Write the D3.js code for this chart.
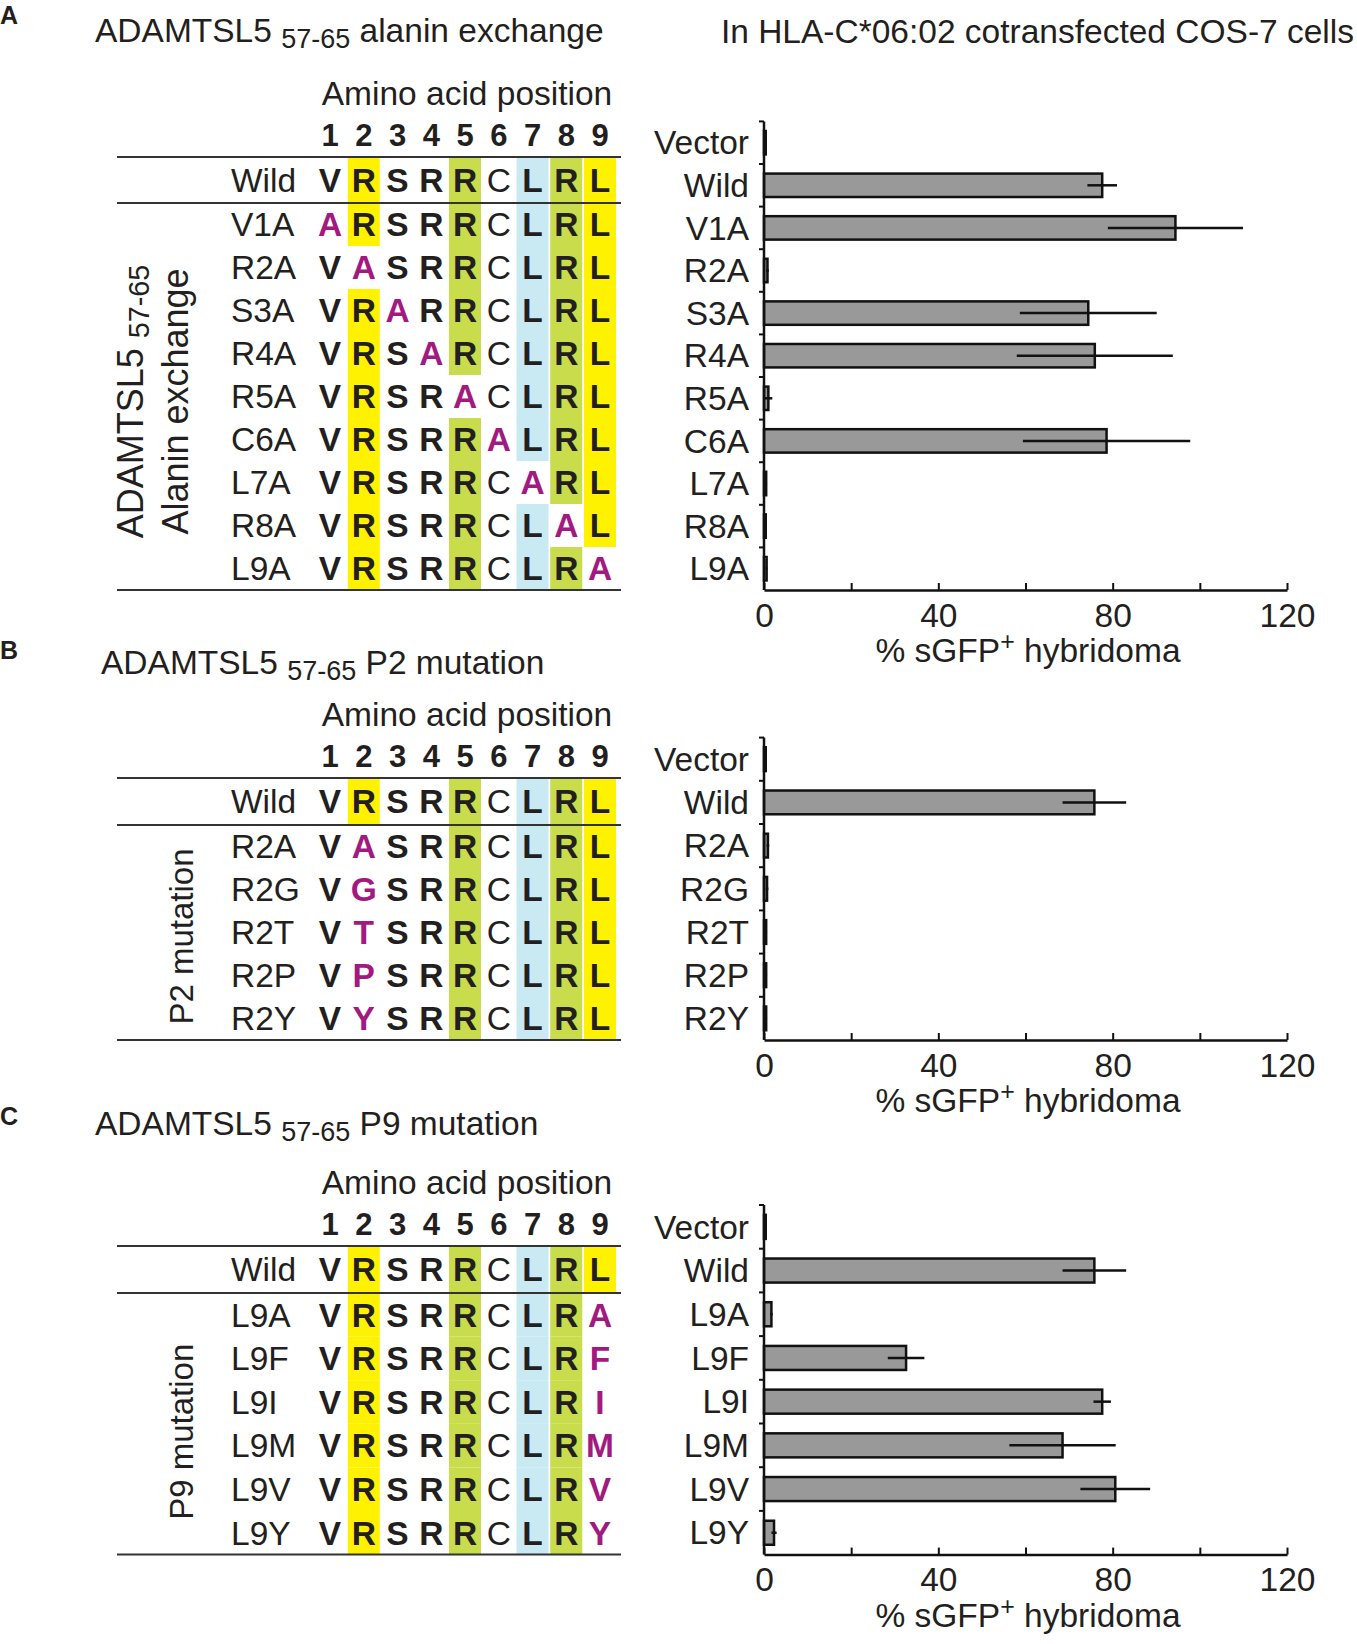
<!DOCTYPE html>
<html lang="en">
<head>
<meta charset="UTF-8">
<script src="https://d3js.org/d3.v7.min.js"></script>
<title>ADAMTSL5 57-65 mutations</title>
<style>
  body { margin: 0; background: #fff; }
  svg { display: block; }
  text { font-family: "Liberation Sans", Arial, Helvetica, sans-serif; fill: #231f20; }
</style>
</head>
<body>
<div id="chart"></div>
<script>
// Data
const positions = [1, 2, 3, 4, 5, 6, 7, 8, 9];
const wildSeq = "VRSRRCLRL";

const alaLabels = ["V1A", "R2A", "S3A", "R4A", "R5A", "C6A", "L7A", "R8A", "L9A"];
const alaSeqs = ["ARSRRCLRL", "VASRRCLRL", "VRARRCLRL", "VRSARCLRL", "VRSRACLRL",
                 "VRSRRALRL", "VRSRRCARL", "VRSRRCLAL", "VRSRRCLRA"];
const p2Labels = ["R2A", "R2G", "R2T", "R2P", "R2Y"];
const p2Seqs = ["VASRRCLRL", "VGSRRCLRL", "VTSRRCLRL", "VPSRRCLRL", "VYSRRCLRL"];
const p9Labels = ["L9A", "L9F", "L9I", "L9M", "L9V", "L9Y"];
const p9Seqs = ["VRSRRCLRA", "VRSRRCLRF", "VRSRRCLRI", "VRSRRCLRM", "VRSRRCLRV", "VRSRRCLRY"];

const barCatsA = ["Vector", "Wild", "V1A", "R2A", "S3A", "R4A", "R5A", "C6A", "L7A", "R8A", "L9A"];
const meanA = [0.4, 77.6, 94.4, 0.8, 74.4, 75.9, 1.0, 78.6, 0.5, 0.4, 0.6];
const sdA   = [0.2, 3.4, 15.5, 0.3, 15.7, 17.9, 0.9, 19.2, 0.2, 0.2, 0.2];

const barCatsB = ["Vector", "Wild", "R2A", "R2G", "R2T", "R2P", "R2Y"];
const meanB = [0.4, 75.8, 0.9, 0.7, 0.5, 0.5, 0.5];
const sdB   = [0.2, 7.3, 0.3, 0.3, 0.2, 0.2, 0.2];

const barCatsC = ["Vector", "Wild", "L9A", "L9F", "L9I", "L9M", "L9V", "L9Y"];
const meanC = [0.4, 75.8, 1.7, 32.6, 77.6, 68.5, 80.6, 2.3];
const sdC   = [0.2, 7.3, 0.3, 4.2, 2.0, 12.2, 8.0, 0.6];

const xTicks = [0, 20, 40, 60, 80, 100, 120];
const xLabelTicks = [0, 40, 80, 120];

// anchor residue colours by position
const anchorFill = { 2: "#fff200", 5: "#c8dc4c", 7: "#c9e9f3", 8: "#c8dc4c", 9: "#fff200" };
const mutColor = "#a2197f";

const width = 1357, height = 1644;
const svg = d3.select("#chart").append("svg")
    .attr("width", width)
    .attr("height", height);

svg.append("text")
    .attr("x", 1357 - 3)
    .attr("y", 43)
    .attr("text-anchor", "end")
    .style("font-size", "33.5px")
    .text("In HLA-C*06:02 cotransfected COS-7 cells");

const col = d3.scalePoint().domain(positions).range([330, 600]);
const x = d3.scaleLinear().domain([0, 120]).range([764, 1287]);

function drawPanel(p) {
    const g = svg.append("g");

    // panel letter
    g.append("text")
        .attr("x", 0).attr("y", p.letterY)
        .style("font-size", "25px").style("font-weight", 700)
        .text(p.letter);

    // title with subscript
    const t = g.append("text")
        .attr("x", p.titleX).attr("y", p.titleY)
        .style("font-size", "33.5px");
    t.append("tspan").text("ADAMTSL5 ");
    t.append("tspan").attr("dy", 6).style("font-size", "27px").text("57-65");
    t.append("tspan").attr("dy", -6).text(" " + p.titleRest);

    // header
    g.append("text")
        .attr("x", 467).attr("y", p.top - 52)
        .attr("text-anchor", "middle")
        .style("font-size", "33.5px")
        .text("Amino acid position");

    g.append("g").selectAll("text")
        .data(positions)
        .join("text")
        .attr("x", d => col(d)).attr("y", p.top - 11)
        .attr("text-anchor", "middle")
        .style("font-size", "31px").style("font-weight", 700)
        .text(d => d);

    // rows
    const rows = [{ label: "Wild", seq: wildSeq, y0: p.top, y1: p.wildLine }]
        .concat(p.labels.map((l, i) => ({
            label: l,
            seq: p.seqs[i],
            y0: p.wildLine + i * p.rowH,
            y1: p.wildLine + (i + 1) * p.rowH
        })));
    const bottom = p.wildLine + p.labels.length * p.rowH;

    const cells = [];
    rows.forEach(r => {
        positions.forEach((pos, j) => {
            cells.push({ pos, aa: r.seq[j], mut: r.seq[j] !== wildSeq[j], y0: r.y0, y1: r.y1 });
        });
    });

    g.append("g").selectAll("rect")
        .data(cells.filter(c => anchorFill[c.pos] && !c.mut))
        .join("rect")
        .attr("x", d => col(d.pos) - 16)
        .attr("y", d => d.y0)
        .attr("width", 32)
        .attr("height", d => d.y1 - d.y0)
        .attr("fill", d => anchorFill[d.pos]);

    g.append("g").selectAll("line")
        .data([p.top, p.wildLine, bottom])
        .join("line")
        .attr("x1", 117).attr("x2", 621)
        .attr("y1", d => d).attr("y2", d => d)
        .attr("stroke", "#333")
        .attr("stroke-width", 2);

    g.append("g").selectAll("text")
        .data(rows)
        .join("text")
        .attr("x", 231)
        .attr("y", d => (d.y0 + d.y1) / 2)
        .attr("dy", "0.35em")
        .style("font-size", "33.5px")
        .text(d => d.label);

    g.append("g").selectAll("text")
        .data(cells)
        .join("text")
        .attr("x", d => col(d.pos))
        .attr("y", d => (d.y0 + d.y1) / 2)
        .attr("dy", "0.35em")
        .attr("text-anchor", "middle")
        .style("font-size", "33.5px")
        .style("font-weight", d => (d.aa === "C" ? 400 : 700))
        .style("fill", d => (d.mut ? mutColor : "#231f20"))
        .text(d => d.aa);

    // rotated side label
    const cy = (p.wildLine + bottom) / 2 + p.sideShift;
    p.side.forEach((line, k) => {
        const st = g.append("text")
            .attr("transform", `translate(${p.sideX[k]},${cy}) rotate(-90)`)
            .attr("text-anchor", "middle")
            .style("font-size", p.sideSize + "px");
        line.forEach(part => {
            if (part.sub) {
                st.append("tspan").attr("dy", 6).style("font-size", (p.sideSize * 0.8) + "px").text(part.t);
            } else {
                st.append("tspan").text(part.t);
            }
        });
    });

    // bar chart
    const n = p.cats.length;
    const yBand = d3.scaleBand()
        .domain(p.cats)
        .range([bottom - n * p.band, bottom])
        .padding(0);
    const bw = yBand.bandwidth();
    const data = p.cats.map((c, i) => ({ c, m: p.means[i], s: p.sds[i] }));

    const bg = g.append("g");

    bg.append("g").selectAll("rect")
        .data(data)
        .join("rect")
        .attr("x", x(0))
        .attr("y", d => yBand(d.c) + bw * 0.225)
        .attr("width", d => x(d.m) - x(0))
        .attr("height", bw * 0.55)
        .attr("fill", "#999")
        .attr("stroke", "#111")
        .attr("stroke-width", 2.5);

    bg.append("g").selectAll("line")
        .data(data)
        .join("line")
        .attr("x1", d => x(Math.max(0, d.m - d.s)))
        .attr("x2", d => x(d.m + d.s))
        .attr("y1", d => yBand(d.c) + bw / 2)
        .attr("y2", d => yBand(d.c) + bw / 2)
        .attr("stroke", "#111")
        .attr("stroke-width", 2.5);

    // y axis
    bg.append("line")
        .attr("x1", x(0)).attr("x2", x(0))
        .attr("y1", yBand.range()[0]).attr("y2", bottom)
        .attr("stroke", "#111").attr("stroke-width", 2.5);
    bg.append("g").selectAll("line")
        .data(p.cats)
        .join("line")
        .attr("x1", x(0) - 5).attr("x2", x(0))
        .attr("y1", d => yBand(d)).attr("y2", d => yBand(d))
        .attr("stroke", "#111").attr("stroke-width", 2);

    bg.append("g").selectAll("text")
        .data(p.cats)
        .join("text")
        .attr("x", 749)
        .attr("y", d => yBand(d) + bw / 2)
        .attr("dy", "0.35em")
        .attr("text-anchor", "end")
        .style("font-size", "33.5px")
        .text(d => d);

    // x axis
    const xAxis = bg.append("g")
        .attr("transform", `translate(0,${bottom})`)
        .call(d3.axisBottom(x)
            .tickValues(xTicks)
            .tickSize(-7)
            .tickSizeOuter(0)
            .tickPadding(13)
            .tickFormat(d => (xLabelTicks.includes(d) ? d : "")));
    xAxis.select(".domain").attr("stroke", "#111").attr("stroke-width", 2.5);
    xAxis.selectAll(".tick line").attr("stroke", "#111").attr("stroke-width", 2);
    xAxis.selectAll(".tick text")
        .style("font-size", "33.5px")
        .style("font-family", "'Liberation Sans', Arial, sans-serif")
        .attr("fill", "#231f20");

    const at = bg.append("text")
        .attr("x", 1028).attr("y", bottom + 72)
        .attr("text-anchor", "middle")
        .style("font-size", "33.5px");
    at.append("tspan").text("% sGFP");
    at.append("tspan").attr("dy", -12).style("font-size", "25px").text("+");
    at.append("tspan").attr("dy", 12).text(" hybridoma");
}

drawPanel({
    letter: "A", letterY: 24,
    titleX: 95, titleY: 42, titleRest: "alanin exchange",
    top: 157, wildLine: 203, rowH: 43,
    labels: alaLabels, seqs: alaSeqs,
    side: [[{ t: "ADAMTSL5 " }, { t: "57-65", sub: true }], [{ t: "Alanin exchange" }]],
    sideX: [143, 188], sideSize: 36, sideShift: 5,
    cats: barCatsA, means: meanA, sds: sdA, band: 42.6
});

drawPanel({
    letter: "B", letterY: 659,
    titleX: 101, titleY: 674, titleRest: "P2 mutation",
    top: 778, wildLine: 825, rowH: 43,
    labels: p2Labels, seqs: p2Seqs,
    side: [[{ t: "P2 mutation" }]],
    sideX: [193], sideSize: 33, sideShift: 4,
    cats: barCatsB, means: meanB, sds: sdB, band: 43.2
});

drawPanel({
    letter: "C", letterY: 1125,
    titleX: 95, titleY: 1135, titleRest: "P9 mutation",
    top: 1246, wildLine: 1293, rowH: 43.6,
    labels: p9Labels, seqs: p9Seqs,
    side: [[{ t: "P9 mutation" }]],
    sideX: [193], sideSize: 33, sideShift: 8,
    cats: barCatsC, means: meanC, sds: sdC, band: 43.7
});
</script>
</body>
</html>
